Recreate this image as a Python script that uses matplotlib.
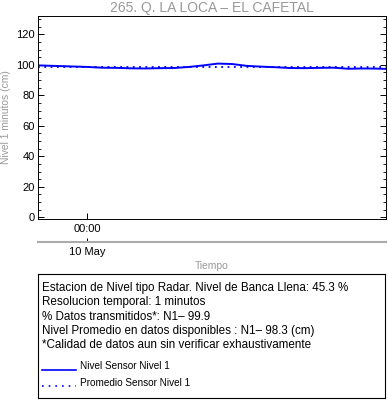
import matplotlib
matplotlib.use("Agg")
import matplotlib.pyplot as plt
from matplotlib.ticker import MultipleLocator

plt.rcParams['font.family'] = ['Liberation Sans', 'DejaVu Sans']

# hours relative to 10 May 00:00
hours = [-3.4, -3, -2, -1, 0, 1, 2, 3, 4, 5, 6, 7, 8, 9, 10, 11, 12, 13,
         14, 15, 16, 17, 18, 19, 20, 20.6]
nivel = [99.6, 99.5, 99.2, 98.9, 98.6, 98.1, 98.0, 97.7, 97.6, 97.8, 97.9,
         98.6, 99.6, 100.8, 100.5, 99.3, 98.8, 98.4, 97.9, 97.8, 98.0, 98.1,
         97.4, 97.6, 97.5, 97.3]
promedio = 98.3

title = "265. Q. LA LOCA – EL CAFETAL"
info_lines = [
    "Estacion de Nivel tipo Radar. Nivel de Banca Llena: 45.3 %",
    "Resolucion temporal: 1 minutos",
    "% Datos transmitidos*: N1\u2013 99.9",
    "Nivel Promedio en datos disponibles : N1\u2013 98.3 (cm)",
    "*Calidad de datos aun sin verificar exhaustivamente",
]

W, H = 388, 404
fig = plt.figure(figsize=(W / 100, H / 100), dpi=100)

def fx(px):
    return px / W

def fy(py):
    return 1 - py / H

ax = fig.add_axes([fx(38), fy(219.3), fx(386 - 38), (219.3 - 16) / H])
ax.plot(hours, nivel, color='#0000ff', lw=1.4)
ax.plot([hours[0], hours[-1]], [promedio, promedio], color='#0000ff', lw=1.3,
        linestyle=(0, (1, 2.5)))
ax.set_xlim(hours[0], hours[-1])
ax.set_ylim(-1.3, 132)
ax.yaxis.set_major_locator(MultipleLocator(20))
ax.yaxis.set_minor_locator(MultipleLocator(5))
ax.set_xticks([0])
ax.set_xticklabels(["00:00"])
ax.tick_params(which='both', direction='in', left=True, right=True, top=True,
               labelsize=8)
ax.tick_params(which='major', length=4, width=0.7)
ax.tick_params(which='minor', length=2.5, width=0.6)
ax.tick_params(axis='x', pad=3.5)
ax.tick_params(axis='y', pad=2.5)
for s in ax.spines.values():
    s.set_linewidth(0.7)
fig.text(fx(6), fy(117.5), "Nivel 1 minutos (cm)", color='#999999', fontsize=7.4,
         rotation=90, ha='center', va='center')

# date axis below
ax2 = ax.twiny()
ax2.set_xlim(ax.get_xlim())
ax2.xaxis.set_ticks_position('bottom')
ax2.xaxis.set_label_position('bottom')
ax2.spines['bottom'].set_position(('outward', 16.5))
for k in ['top', 'left', 'right']:
    ax2.spines[k].set_visible(False)
ax2.spines['bottom'].set_color('#aaaaaa')
ax2.spines['bottom'].set_linewidth(1.5)
ax2.set_xticks([0])
ax2.set_xticklabels(["10 May"])
ax2.tick_params(direction='in', length=3, width=0.7, labelsize=8, pad=3.5)

fig.text(fx(212), fy(266), "Tiempo", color='#999999', fontsize=7.4,
         ha='center', va='center')
fig.text(fx(212), fy(8), title, color='#999999', fontsize=10,
         ha='center', va='center')

# info box
box = fig.add_axes([fx(38), fy(398), fx(385 - 38), (398 - 274) / H])
box.set_xticks([])
box.set_yticks([])
for s in box.spines.values():
    s.set_linewidth(0.8)

rows_y = [288, 302.3, 316.6, 331, 345.3]
for txt, py in zip(info_lines, rows_y):
    fig.text(fx(42), fy(py), txt, fontsize=8.4, va='center', ha='left')

fig.add_artist(plt.Line2D([fx(42), fx(76)], [fy(370), fy(370)],
                          color='#0000ff', lw=1.2))
fig.text(fx(80), fy(366), "Nivel Sensor Nivel 1", fontsize=7.2, va='center')
fig.add_artist(plt.Line2D([fx(42), fx(76)], [fy(386), fy(386)],
                          color='#0000ff', lw=1.2, linestyle=(0, (1, 3))))
fig.text(fx(80), fy(383), "Promedio Sensor Nivel 1", fontsize=7.2, va='center')

fig.savefig("out.png", dpi=100)
